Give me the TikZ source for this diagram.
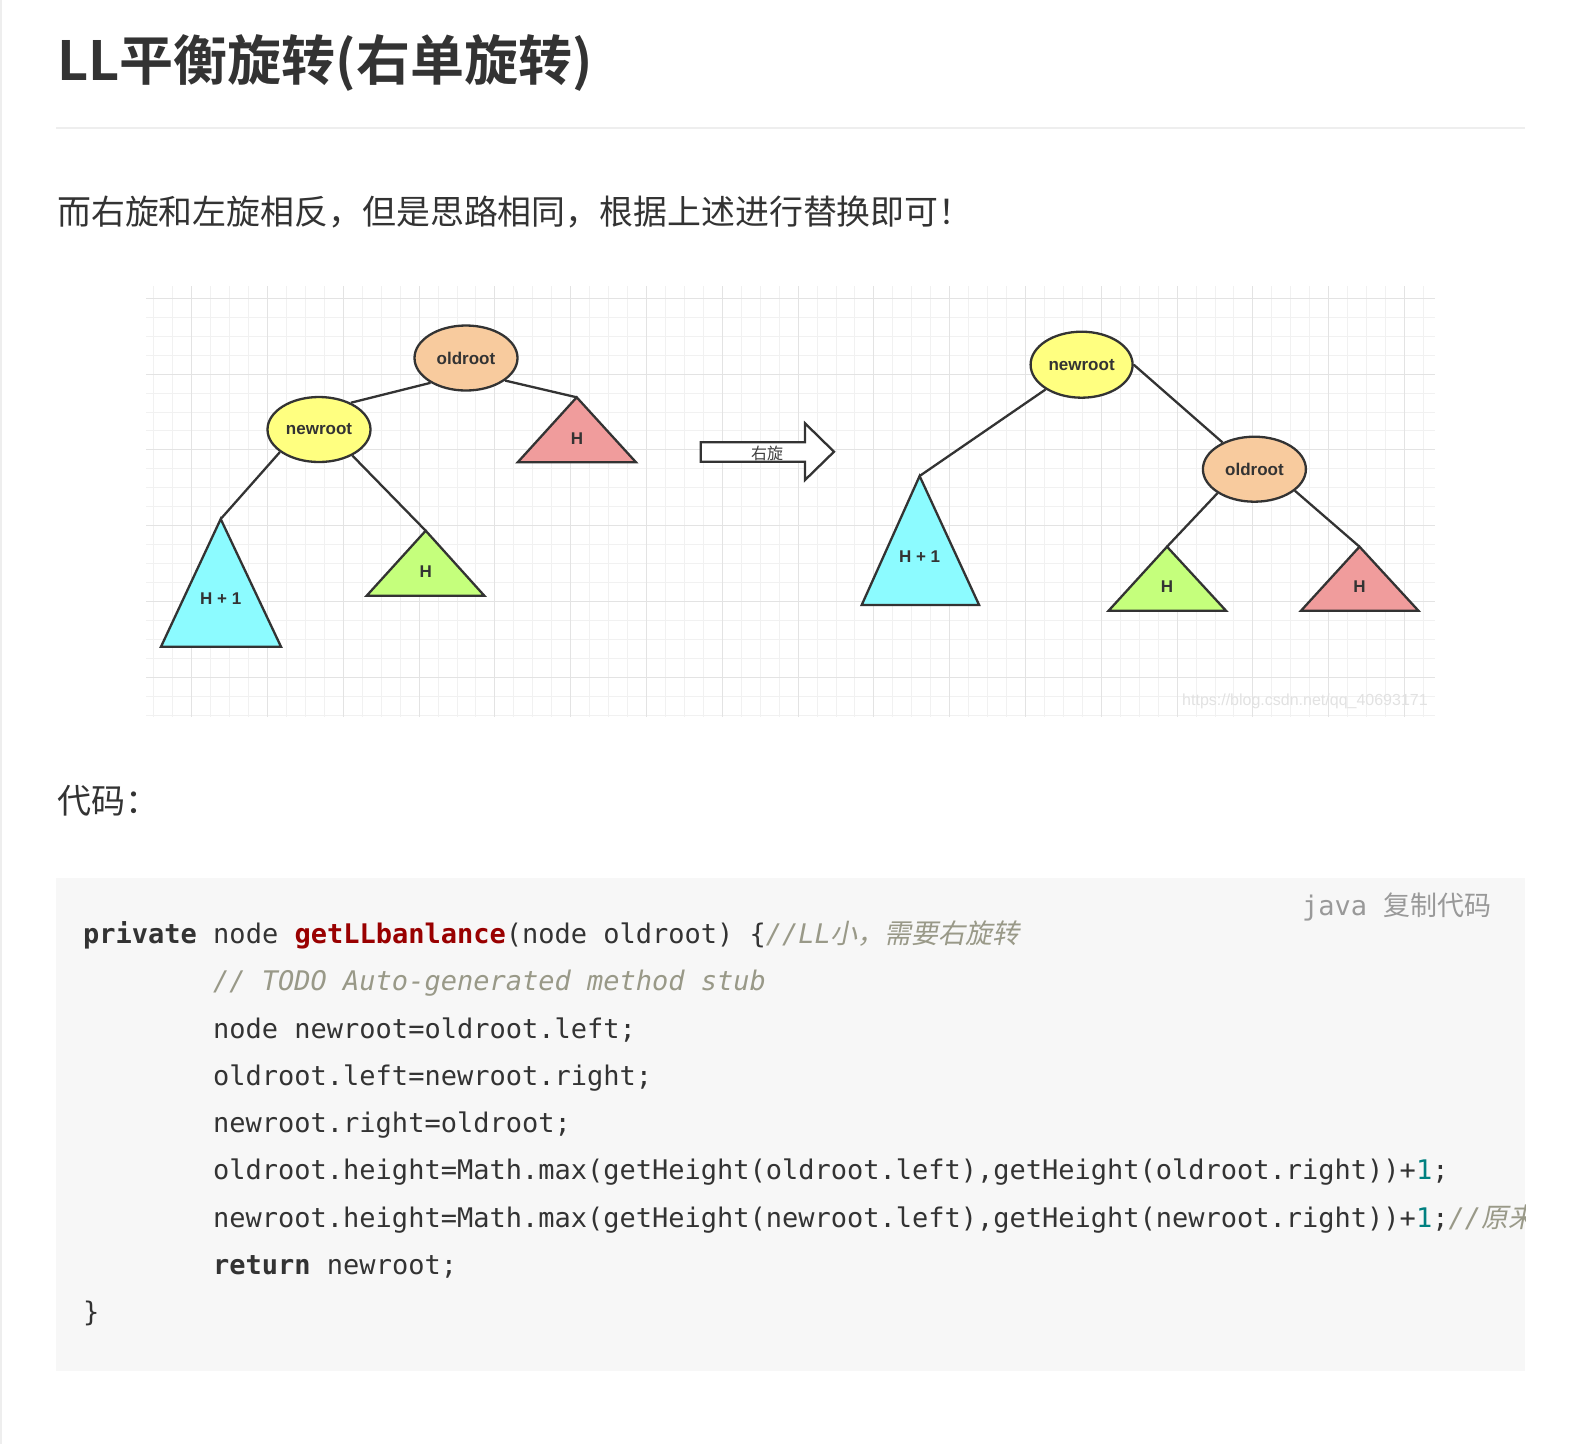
\documentclass[tikz,border=0pt]{standalone}
\usepackage{fontspec}
\usetikzlibrary{shapes.geometric}
\setmainfont{Noto Sans CJK SC}[BoldFont={Noto Sans CJK SC Bold}]
\newfontfamily\diagfont{Liberation Sans}
\newfontfamily\codefont{DejaVu Sans Mono}[BoldFont={DejaVu Sans Mono Bold},ItalicFont={DejaVu Sans Mono Oblique}]
\newfontfamily\codecjkit{Noto Sans CJK SC}[FakeSlant=0.2]
\newfontfamily\cjk{Noto Sans CJK SC}

\definecolor{txt}{HTML}{333333}
\definecolor{sepc}{HTML}{EEEEEE}
\definecolor{codebg}{HTML}{F7F7F7}
\definecolor{cfn}{HTML}{990000}
\definecolor{ccm}{HTML}{999988}
\definecolor{cnum}{HTML}{008080}
\definecolor{hdr}{HTML}{999999}
\definecolor{gmin}{HTML}{F1F1F1}
\definecolor{gmaj}{HTML}{E3E3E3}
\definecolor{peach}{HTML}{F8CB9E}
\definecolor{yel}{HTML}{FFFF80}
\definecolor{cyanf}{HTML}{8CFBFF}
\definecolor{greenf}{HTML}{C5FF7C}
\definecolor{redf}{HTML}{F09C9C}
\definecolor{lin}{HTML}{333333}
\definecolor{wm}{HTML}{E2E2E2}

\newcommand\kwd[1]{{\bfseries #1}}
\newcommand\fnm[1]{{\bfseries\color{cfn}#1}}
\newcommand\cmt[1]{{\itshape\color{ccm}#1}}
\newcommand\nmb[1]{{\color{cnum}#1}}

\tikzset{
  ell/.style={ellipse, draw=lin, line width=2.3pt, minimum width=103pt, minimum height=65pt,
    inner sep=0pt, font=\diagfont\bfseries\fontsize{17}{17}\selectfont, text=txt},
  tri/.style={draw=lin, line width=2.3pt, line join=miter},
  edge/.style={draw=lin, line width=2.3pt},
  tlabel/.style={font=\diagfont\bfseries\fontsize{17}{17}\selectfont, text=txt, inner sep=0pt},
  codeline/.style={anchor=base west, inner sep=0pt, font=\codefont\fontsize{27}{27}\selectfont, text=txt},
  plain/.style={anchor=base west, inner sep=0pt, text=txt},
  gminor/.style={draw=gmin, line width=1pt},
  gmajor/.style={draw=gmaj, line width=1pt},
}

\begin{document}
\begin{tikzpicture}[x=1pt,y=-1pt]
\path[fill=white] (0,0) rectangle (1576,1444);
\useasboundingbox (0,0) rectangle (1576,1444);

% page border
\draw[sepc, line width=2pt] (1,0) -- (1,1444);

% title
\node[plain, font=\bfseries\fontsize{54}{60}\selectfont] (title) at (57,80) {LL平衡旋转(右单旋转)};
\draw[sepc, line width=2pt] (56,127.7) -- (1525,127.7);

\node[plain, font=\fontsize{33.9}{40}\selectfont] (para) at (57,224) {而右旋和左旋相反，但是思路相同，根据上述进行替换即可！};

% grid
\foreach \k in {0,...,67} {
  \pgfmathsetmacro\xx{153.8+18.95*\k}
  \draw[gminor] (\xx,286) -- (\xx,717);
}
\foreach \k in {0,...,22} {
  \pgfmathsetmacro\yy{298.3+18.95*\k}
  \draw[gminor] (146,\yy) -- (1435,\yy);
}
\foreach \k in {0,...,16} {
  \pgfmathsetmacro\xx{191.7+75.8*\k}
  \draw[gmajor] (\xx,286) -- (\xx,717);
}
\foreach \k in {0,...,5} {
  \pgfmathsetmacro\yy{298.3+75.8*\k}
  \draw[gmajor] (146,\yy) -- (1435,\yy);
}

% ---- left tree ----
\node[ell, fill=peach] (oldL) at (466,358) {oldroot};
\node[ell, fill=yel] (newL) at (319,429.5) {newroot};

\coordinate (cyanLtop) at (220.7,519);
\coordinate (greenLtop) at (425.7,530.7);
\coordinate (redLtop) at (576.7,397.3);

\draw[tri, fill=cyanf] (cyanLtop) -- (281,646.7) -- (161,646.7) -- cycle;
\draw[tri, fill=greenf] (greenLtop) -- (484.3,595.7) -- (366.7,595.7) -- cycle;
\draw[tri, fill=redf] (redLtop) -- (636,462.3) -- (517.7,462.3) -- cycle;

\node[tlabel] (cyanLlab) at (220.7,599) {H + 1};
\node[tlabel] (greenLlab) at (425.7,571.7) {H};
\node[tlabel] (redLlab) at (577,438.7) {H};

\draw[edge] (oldL.215) -- (newL.40);
\draw[edge] (oldL.330) -- (redLtop);
\draw[edge] (newL.210) -- (cyanLtop);
\draw[edge] (newL.322) -- (greenLtop);

% ---- arrow ----
\draw[draw=lin, line width=2.3pt, fill=white, line join=miter]
  (700.7,442.3) -- (805,442.3) -- (805,423.3) -- (834,451.7) -- (805,480) -- (805,461.7) -- (700.7,461.7) -- cycle;
\node[inner sep=0pt, font=\fontsize{16}{16}\selectfont, text=black!75] (arrowlab) at (767,453) {右旋};

% ---- right tree ----
\node[ell, fill=yel, minimum width=102pt, minimum height=66pt] (newR) at (1081.6,364.7) {newroot};
\node[ell, fill=peach] (oldR) at (1254.4,469.2) {oldroot};

\coordinate (cyanRtop) at (919.6,476);
\coordinate (greenRtop) at (1167,546.7);
\coordinate (redRtop) at (1359.5,546.7);

\draw[tri, fill=cyanf] (cyanRtop) -- (979.1,605) -- (861.7,605) -- cycle;
\draw[tri, fill=greenf] (greenRtop) -- (1226,610.7) -- (1108.6,610.7) -- cycle;
\draw[tri, fill=redf] (redRtop) -- (1418.4,610.7) -- (1301,610.7) -- cycle;

\node[tlabel] (cyanRlab) at (919.6,556.7) {H + 1};
\node[tlabel] (greenRlab) at (1167,586.7) {H};
\node[tlabel] (redRlab) at (1359.5,586.7) {H};

\draw[edge] (newR) -- (cyanRtop);
\draw[edge] (newR.east) -- (oldR.140);
\draw[edge] (oldR.213) -- (greenRtop);
\draw[edge] (oldR.332) -- (redRtop);

\node[anchor=west, inner sep=0pt, font=\diagfont\fontsize{16}{16}\selectfont, text=wm] (wmark) at (1182,701.7) {https://blog.csdn.net/qq\_40693171};

% ---- code section ----
\node[plain, font=\fontsize{34}{40}\selectfont] (codelab) at (57,813.5) {代码：};

\fill[codebg] (56,877.7) rectangle (1525,1371);
\node[codeline, text=hdr] (hdr) at (1302,915) {java {\cjk 复制代码}};

\begin{scope}
\clip (56,877.7) rectangle (1525,1371);
\node[codeline] (l1) at (83,943.7) {\kwd{private} node \fnm{getLLbanlance}(node oldroot) \{\cmt{//LL{\codecjkit 小，需要右旋转}}};
\node[codeline] (l2) at (213,990.9) {\cmt{// TODO Auto-generated method stub}};
\node[codeline] (l3) at (213,1038.1) {node newroot=oldroot.left;};
\node[codeline] (l4) at (213,1085.4) {oldroot.left=newroot.right;};
\node[codeline] (l5) at (213,1132.6) {newroot.right=oldroot;};
\node[codeline] (l6) at (213,1179.8) {oldroot.height=Math.max(getHeight(oldroot.left),getHeight(oldroot.right))+\nmb{1};};
\node[codeline] (l7) at (213,1227.0) {newroot.height=Math.max(getHeight(newroot.left),getHeight(newroot.right))+\nmb{1};\cmt{//{\codecjkit 原来}}};
\node[codeline] (l8) at (213,1274.3) {\kwd{return} newroot;};
\node[codeline] (l9) at (83,1321.5) {\}};
\end{scope}
\end{tikzpicture}
\end{document}
